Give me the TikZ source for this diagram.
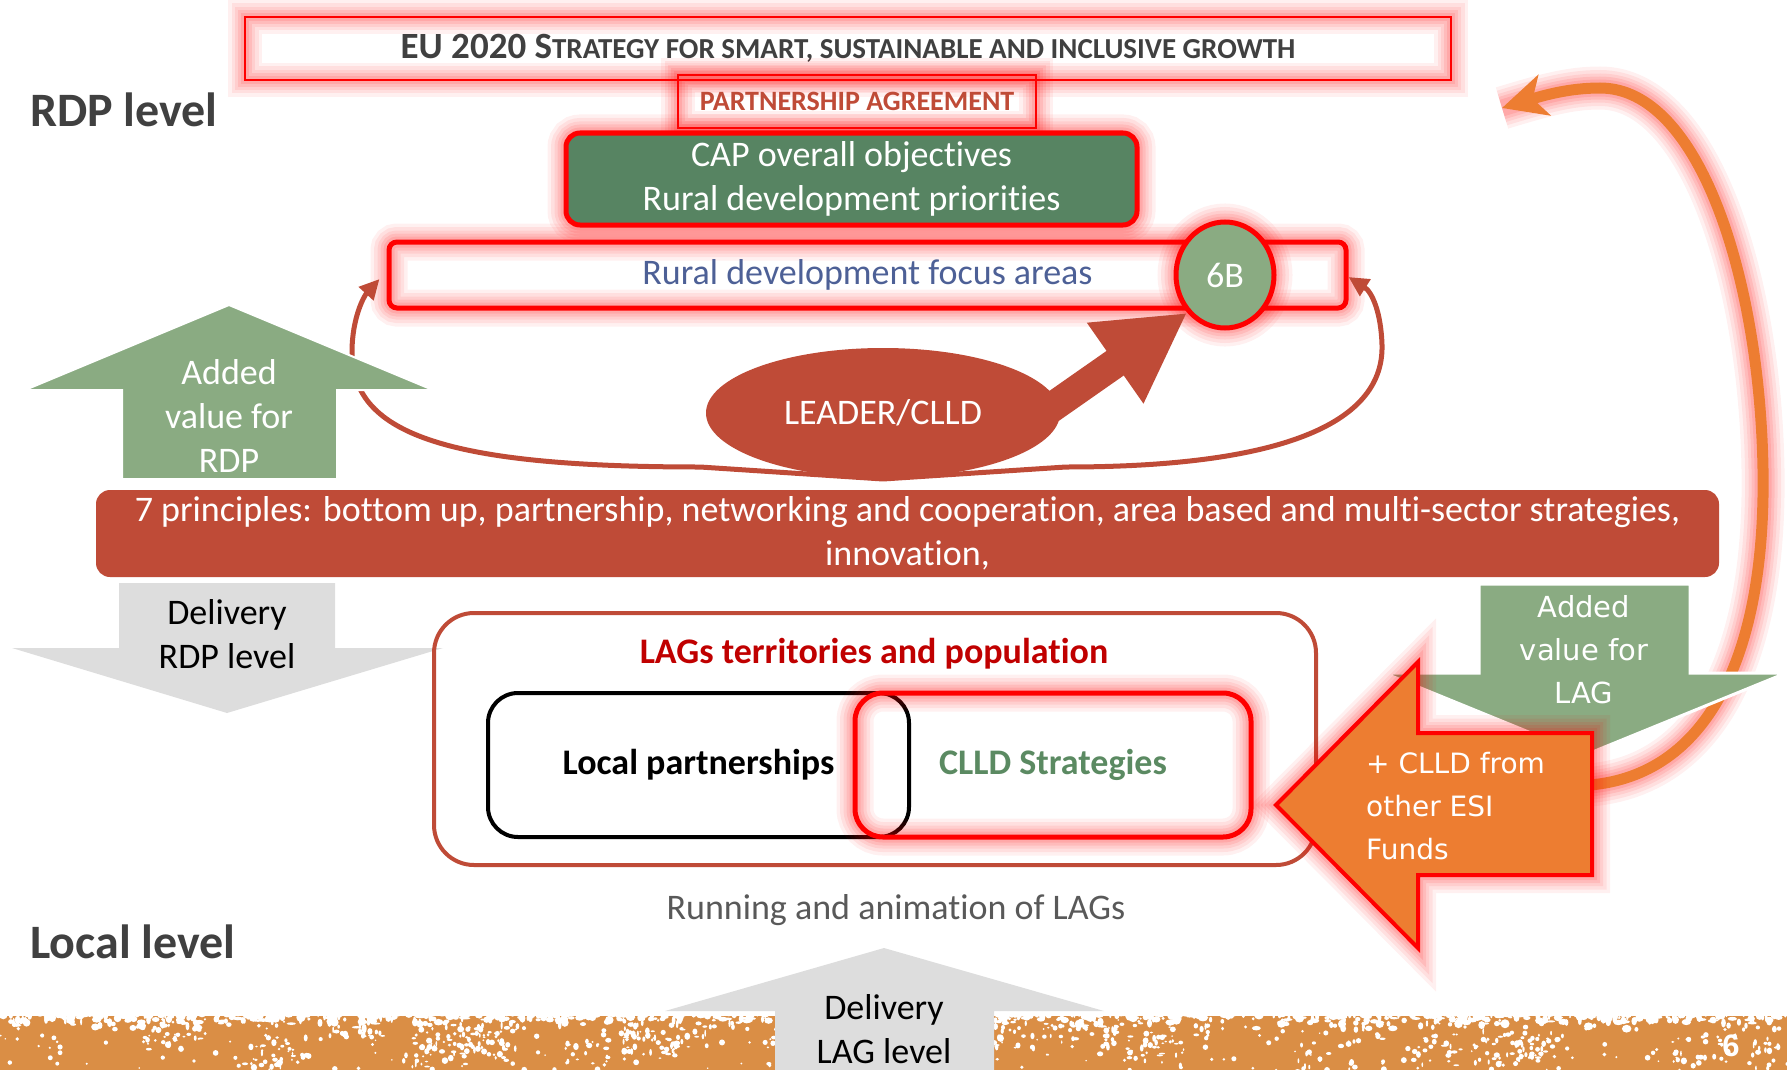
\documentclass[tikz,border=0pt]{standalone}
\usepackage{fontspec}
\setmainfont{Carlito}[Ligatures=NoCommon]
\newfontfamily\verdfont{DejaVu Sans}
\newfontfamily\arialfont{Liberation Sans}
\usetikzlibrary{positioning,shapes.geometric,arrows.meta}

\definecolor{brick}{HTML}{BF4B37}
\definecolor{capgreen}{HTML}{578462}
\definecolor{sage}{HTML}{8AAB82}
\definecolor{focusblue}{HTML}{4D6096}
\definecolor{clldgreen}{HTML}{5B8A62}
\definecolor{lagred}{HTML}{C00000}
\definecolor{headgray}{HTML}{404040}
\definecolor{rungray}{HTML}{595959}
\definecolor{esiorange}{HTML}{ED7D31}
\definecolor{bandorange}{HTML}{DA8E45}
\definecolor{delgray}{HTML}{DDDDDD}

\begin{document}
\begin{tikzpicture}[x=1pt,y=-1pt,
    glow/.style={preaction={draw=red,line width=#1+32pt,opacity=.06,arrows=-},
                 preaction={draw=red,line width=#1+25pt,opacity=.07,arrows=-},
                 preaction={draw=red,line width=#1+18pt,opacity=.08,arrows=-},
                 preaction={draw=red,line width=#1+12pt,opacity=.09,arrows=-},
                 preaction={draw=red,line width=#1+6pt,opacity=.1,arrows=-}},
    glow/.default=4pt,
    big/.style={font=\fontsize{36}{44}\selectfont},
    bigbold/.style={font=\bfseries\fontsize{36}{42}\selectfont},
    verd/.style={font=\verdfont\fontsize{29}{43}\selectfont},
    levelhead/.style={anchor=west,inner sep=0pt,text=headgray,font=\bfseries\fontsize{48}{54}\selectfont},
    thinbox/.style={draw=red,line width=2pt,glow=2pt,inner sep=0pt},
    redbox/.style={draw=red,line width=5pt,glow=5pt,inner sep=0pt},
    loopline/.style={brick,line width=5pt,-{Triangle[length=20pt,width=19pt]}},
    arrowtxt/.style={big,align=center,inner sep=0pt}]
\useasboundingbox (0,0) rectangle (1787,1070);

% levels
\node[levelhead] (rdplevel) at (30,110) {RDP level};
\node[levelhead] (loclevel) at (30,942) {Local level};

% strategy frame
\node[thinbox,minimum width=1206pt,minimum height=63pt,text=headgray,font=\bfseries]
  (eu) at (848,48.5) {\fontsize{37}{40}\selectfont EU 2020 S\fontsize{29}{40}\selectfont TRATEGY FOR SMART, SUSTAINABLE AND INCLUSIVE GROWTH};
\node[thinbox,minimum width=358pt,minimum height=53pt,text=brick,font=\bfseries\fontsize{28}{32}\selectfont]
  (pa) at (857,101.5) {PARTNERSHIP AGREEMENT};
\node[redbox,fill=capgreen,rounded corners=14pt,minimum width=571pt,minimum height=92pt,
  text=white,align=center,big] (cap) at (851.5,179) {CAP overall objectives\\Rural development priorities};
\node[redbox,rounded corners=8pt,minimum width=957pt,minimum height=66pt,text=focusblue,big]
  (focus) at (867.5,275) {Rural development focus areas};
\node[ellipse,redbox,fill=sage,minimum width=98pt,minimum height=106pt,text=white,big]
  (sixb) at (1225,275) {6B};

% leader loops up to the focus areas
\coordinate (notch) at (883,479);
\draw[loopline] (notch) -- (700,467) .. controls (440,467) and (352,432) .. (352,352)
  .. controls (352,318) and (364,296) .. ([xshift=-7pt,yshift=-4pt]focus.west);
\draw[loopline] (notch) -- (1066,467) .. controls (1290,467) and (1384,420) .. (1382,345)
  .. controls (1381,312) and (1372,292) .. ([yshift=-2pt]focus.east);

\node[ellipse,fill=brick,minimum width=354pt,minimum height=130pt,text=white,big]
  (leader) at (883,413) {LEADER/CLLD};
\draw[brick,line width=30pt,-{Triangle[length=88pt,width=92pt]}]
  ([xshift=-12pt,yshift=3pt]leader.east) -- (sixb.225);

% added value for RDP
\fill[sage,draw=white,line width=2pt] (122,479) -- (122,390) -- (25,390) -- (229,305)
  -- (433,390) -- (337,390) -- (337,479) -- cycle;
\node[arrowtxt,text=white] (addrdp) at (229,416) {Added\\value for\\RDP};

% principles
\node[fill=brick,rounded corners=14pt,minimum width=1623pt,minimum height=87pt,
  text=white,align=center,big,inner sep=0pt] (principles) at (907.5,533.5)
  {7 principles: bottom up, partnership, networking and cooperation, area based and multi-sector strategies,\\innovation,};

% delivery RDP level
\fill[delgray] (119,583) -- (335,583) -- (335,648) -- (443,648) -- (227,713)
  -- (12,648) -- (119,648) -- cycle;
\node[arrowtxt,text=black] (delrdp) at (227,634) {Delivery\\RDP level};

% LAG territory
\node[draw=brick,line width=4pt,rounded corners=40pt,minimum width=882pt,minimum height=252pt]
  (lag) at (875,739) {};
\node[bigbold,text=lagred] (lagtitle) at (874,654) {LAGs territories and population};
\node[draw=black,line width=4pt,rounded corners=30pt,minimum width=421pt,minimum height=144pt,
  bigbold,text=black] (localp) at (698.5,765) {Local partnerships};
\node[redbox,rounded corners=28pt,minimum width=396pt,minimum height=144pt,bigbold,text=clldgreen]
  (clld) at (1053,765) {CLLD Strategies};
\node[text=rungray,font=\fontsize{36}{40}\selectfont] (running) at (896,910) {Running and animation of LAGs};

% orange loop back to the strategy
\coordinate (orstart) at (1590,785);
\coordinate (ortip) at (1502,108);
\draw[esiorange,line width=11pt,glow=11pt,-{Stealth[length=44pt,width=42pt,inset=12pt]}]
  (orstart) .. controls (1705,775) and (1766,660) .. (1763,470)
  .. controls (1760,280) and (1700,88) .. (1600,88)
  .. controls (1570,88) and (1545,95) .. (ortip);

% added value for LAG
\fill[sage,draw=white,line width=3pt] (1479,584) -- (1690,584) -- (1690,673) -- (1786,673)
  -- (1585,755) -- (1384,673) -- (1479,673) -- cycle;
\node[verd,align=center,text=white,inner sep=0pt] (addlag) at (1584,650) {Added\\value for\\LAG};

% other ESI funds
\filldraw[fill=esiorange,draw=red,line width=4pt,glow] (1592,733) -- (1592,875) -- (1418,875)
  -- (1418,948) -- (1276,805) -- (1418,662) -- (1418,733) -- cycle;
\node[verd,font=\verdfont\fontsize{28}{43}\selectfont,align=left,text=white,anchor=west,inner sep=0pt]
  (esi) at (1366,806) {+ CLLD from\\other ESI\\Funds};

% bottom band, worn edge and patches
\fill[bandorange] (0,1016) rectangle (1787,1070);
\pgfmathsetseed{2020}
\foreach \i in {1,...,800}{
  \pgfmathsetmacro{\sx}{1787*rnd}
  \pgfmathsetmacro{\sy}{1014+16*rnd*rnd}
  \pgfmathsetmacro{\sr}{1+3.5*rnd}
  \pgfmathsetmacro{\sq}{1+4*rnd}
  \fill[white] (\sx,\sy) ellipse [x radius=\sq,y radius=\sr];
}
\foreach \c in {1,...,40}{
  \pgfmathsetmacro{\cx}{1787*rnd}
  \pgfmathsetmacro{\cy}{1022+40*rnd}
  \foreach \i in {1,...,18}{
    \pgfmathsetmacro{\sx}{\cx+60*(rnd-0.5)}
    \pgfmathsetmacro{\sy}{\cy+30*(rnd-0.5)}
    \pgfmathsetmacro{\sr}{0.8+2.8*rnd}
    \pgfmathsetmacro{\sq}{0.8+2.4*rnd}
    \fill[white] (\sx,\sy) ellipse [x radius=\sq,y radius=\sr];
  }
}
\foreach \i in {1,...,250}{
  \pgfmathsetmacro{\sx}{1787*rnd}
  \pgfmathsetmacro{\sy}{1018+52*rnd}
  \pgfmathsetmacro{\sr}{0.8+2.2*rnd}
  \fill[white] (\sx,\sy) circle [radius=\sr];
}
\fill[delgray] (775,1070) -- (775,1011) -- (665,1011) -- (884,948) -- (1104,1011)
  -- (994,1011) -- (994,1070) -- cycle;
\node[arrowtxt,text=black] (dellag) at (884,1029) {Delivery\\LAG level};
\node[text=white,font=\arialfont\bfseries\fontsize{31}{31}\selectfont] (pagenum) at (1731,1046) {6};
\end{tikzpicture}
\end{document}
